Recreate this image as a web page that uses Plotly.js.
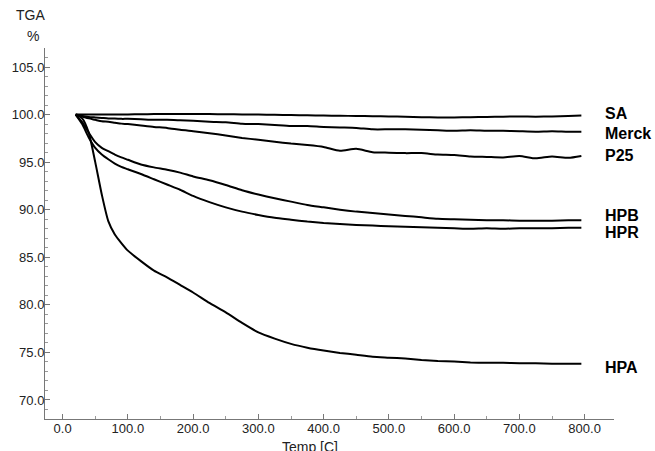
<!DOCTYPE html>
<html>
<head>
<meta charset="utf-8">
<script src="https://cdn.plot.ly/plotly-3.0.1.min.js"></script>
<style>html,body{margin:0;padding:0;background:#fff;}#chart{width:655px;height:451px;}</style>
</head>
<body>
<div id="chart"></div>
<script>
// Temperature [C]
const temps = [20, 30, 40, 50, 60, 70, 80, 90, 100, 120, 140, 160, 180, 200, 225, 250, 275, 300, 325, 350, 375, 400, 425, 450, 475, 500, 525, 550, 575, 600, 625, 650, 675, 700, 725, 750, 775, 795];

const seriesNames = ["SA", "Merck", "P25", "HPB", "HPR", "HPA"];

const SA = [100, 100, 100, 100, 100, 100, 100, 100, 100.02, 100.03, 100.05, 100.05, 100.05, 100.05, 100.05, 100.03, 100.02, 100.0, 99.98, 99.95, 99.93, 99.9, 99.88, 99.85, 99.83, 99.8, 99.78, 99.72, 99.7, 99.7, 99.72, 99.75, 99.78, 99.8, 99.78, 99.8, 99.85, 99.9];
const Merck = [100, 99.85, 99.75, 99.7, 99.65, 99.6, 99.6, 99.55, 99.55, 99.5, 99.45, 99.45, 99.4, 99.35, 99.25, 99.2, 99.05, 99.0, 98.9, 98.8, 98.8, 98.7, 98.65, 98.6, 98.45, 98.45, 98.45, 98.4, 98.35, 98.3, 98.35, 98.3, 98.3, 98.25, 98.2, 98.25, 98.2, 98.2];
const P25 = [100, 99.8, 99.6, 99.45, 99.3, 99.25, 99.15, 99.05, 99.0, 98.85, 98.7, 98.6, 98.4, 98.25, 98.05, 97.8, 97.55, 97.35, 97.15, 96.95, 96.8, 96.6, 96.2, 96.4, 96.05, 96.0, 95.95, 95.95, 95.8, 95.75, 95.6, 95.55, 95.5, 95.65, 95.4, 95.6, 95.45, 95.65];
const HPB = [100, 99.2, 98.1, 97.1, 96.5, 96.15, 95.8, 95.5, 95.25, 94.75, 94.45, 94.2, 93.9, 93.5, 93.1, 92.6, 92.05, 91.6, 91.2, 90.85, 90.5, 90.25, 90.0, 89.8, 89.65, 89.5, 89.35, 89.2, 89.05, 89.0, 88.95, 88.9, 88.9, 88.85, 88.85, 88.85, 88.9, 88.9];
const HPR = [100, 99.0, 97.6, 96.5, 95.8, 95.3, 94.85, 94.5, 94.25, 93.75, 93.2, 92.65, 92.1, 91.45, 90.8, 90.25, 89.8, 89.45, 89.15, 88.95, 88.75, 88.6, 88.5, 88.4, 88.33, 88.25, 88.2, 88.15, 88.1, 88.05, 88.0, 88.05, 88.0, 88.05, 88.05, 88.05, 88.1, 88.1];
const HPA = [100, 99.6, 98.1, 95.0, 91.6, 88.8, 87.4, 86.5, 85.7, 84.6, 83.6, 82.9, 82.1, 81.3, 80.2, 79.2, 78.1, 77.1, 76.45, 75.9, 75.5, 75.2, 74.95, 74.75, 74.55, 74.45, 74.35, 74.2, 74.1, 74.05, 73.95, 73.9, 73.9, 73.85, 73.85, 73.8, 73.8, 73.8];

const labelY = [100.1, 98.0, 95.7, 89.4, 87.6, 73.45];

const xTickVals = [0, 100, 200, 300, 400, 500, 600, 700, 800];
const yTickVals = [70, 75, 80, 85, 90, 95, 100, 105];

const allSeries = [SA, Merck, P25, HPB, HPR, HPA];

const traces = allSeries.map((ys, i) => ({
  x: temps, y: ys, name: seriesNames[i], type: 'scatter', mode: 'lines',
  line: {color: '#000', width: 2, shape: 'spline', smoothing: 0.6},
  hoverinfo: 'skip'
}));

const tickFont = {family: 'Liberation Sans, Arial, sans-serif', size: 13, color: '#222'};
const titleFont = {family: 'Liberation Sans, Arial, sans-serif', size: 14, color: '#222'};

const annotations = seriesNames.map((n, i) => ({
  text: '<b>' + n + '</b>', xref: 'paper', yref: 'y', x: 0.981, y: labelY[i],
  xanchor: 'left', yanchor: 'middle', showarrow: false,
  font: {family: 'Liberation Sans, Arial, sans-serif', size: 16, color: '#000'}
}));
annotations.push({text: 'TGA', xref: 'paper', yref: 'paper', x: -0.026, y: 1.089, xanchor: 'center', yanchor: 'middle', showarrow: false, font: titleFont});
annotations.push({text: '%', xref: 'paper', yref: 'paper', x: -0.021, y: 1.032, xanchor: 'center', yanchor: 'middle', showarrow: false, font: titleFont});
annotations.push({text: 'Temp [C]', xref: 'paper', yref: 'paper', x: 0.466, y: -0.075, xanchor: 'center', yanchor: 'middle', showarrow: false, font: titleFont});

const layout = {
  width: 655, height: 451,
  margin: {l: 45, r: 41, t: 48, b: 32},
  paper_bgcolor: '#fff', plot_bgcolor: '#fff',
  showlegend: false,
  font: tickFont,
  xaxis: {
    range: [-27, 845], showgrid: false, zeroline: false,
    showline: true, linecolor: '#777', linewidth: 1,
    tickvals: xTickVals, ticktext: xTickVals.map(v => v.toFixed(1)),
    ticks: 'inside', ticklen: 5, tickcolor: '#777',
    ticklabelstandoff: -3,
    minor: {dtick: 50, tick0: 0, ticks: 'inside', ticklen: 3, tickcolor: '#999', showgrid: false},
    tickfont: tickFont
  },
  yaxis: {
    range: [68, 107], showgrid: false, zeroline: false,
    showline: true, linecolor: '#777', linewidth: 1,
    tickvals: yTickVals, ticktext: yTickVals.map(v => v.toFixed(1)),
    ticks: 'inside', ticklen: 5, tickcolor: '#777',
    ticklabelstandoff: -3,
    minor: {dtick: 1, tick0: 0, ticks: 'inside', ticklen: 3, tickcolor: '#999', showgrid: false},
    tickfont: tickFont
  },
  annotations: annotations
};

Plotly.newPlot('chart', traces, layout, {staticPlot: true, displayModeBar: false});
</script>
</body>
</html>
